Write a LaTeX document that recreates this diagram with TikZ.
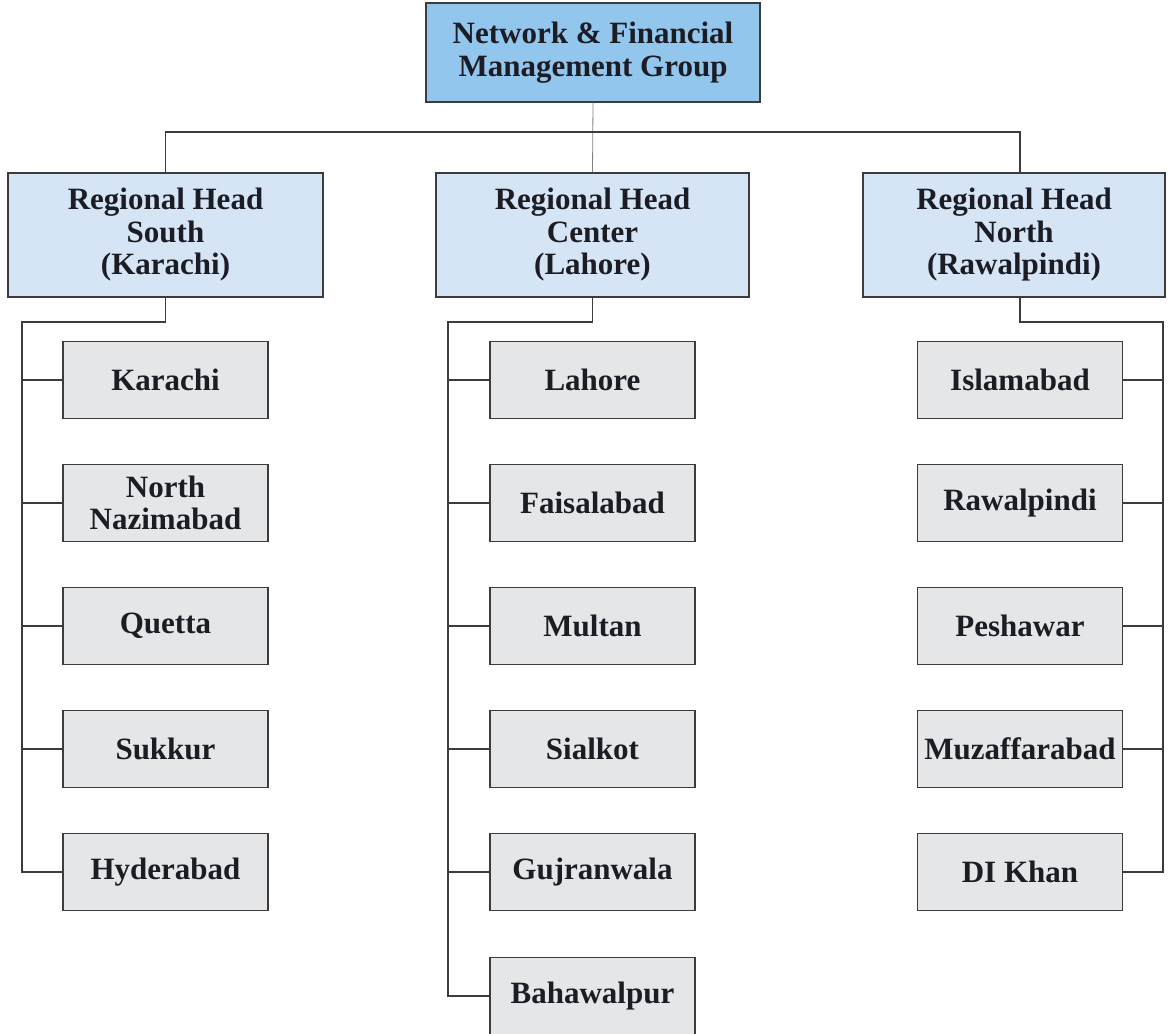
\documentclass[tikz,border=0pt]{standalone}
\usepackage{fontspec}
\setmainfont{Liberation Serif}
\definecolor{topblue}{HTML}{93C6EC}
\definecolor{regblue}{HTML}{D5E5F5}
\definecolor{cellgray}{HTML}{E5E6E8}
\definecolor{edgegray}{HTML}{3C3C3C}
\definecolor{txt}{HTML}{1C1C24}
\begin{document}
\begin{tikzpicture}[x=1pt,y=-1pt,
  base/.style={draw=edgegray,line width=1.4pt,align=center,text=txt,
    font=\fontsize{31}{32.5}\selectfont\bfseries,inner sep=0pt},
  topbox/.style={base,fill=topblue,minimum width=334pt,minimum height=99pt},
  regbox/.style={base,fill=regblue,minimum height=124pt},
  cell/.style={base,fill=cellgray,minimum width=205pt,minimum height=77pt},
  link/.style={draw=edgegray,line width=1.3pt},
  thinlink/.style={draw=gray,line width=0.8pt}]
\useasboundingbox (0,0) rectangle (1169,1033);

\node[topbox] (top) at (593,52.5) {Network \& Financial\\Management Group};

\node[regbox,minimum width=315pt] (south) at (165.5,235) {Regional Head\\South\\(Karachi)};
\node[regbox,minimum width=313pt] (center) at (592.5,235) {Regional Head\\Center\\(Lahore)};
\node[regbox,minimum width=302pt] (north) at (1014,235) {Regional Head\\North\\(Rawalpindi)};

% top-level connectors
\coordinate (hbar) at (593,132);
\draw[thinlink] (top.south) -- (center.north);
\draw[link] (south.north) |- (hbar) -| (north.north -| 1020,0);

% south children
\node[cell] (s1) at (165.5,380) {Karachi};
\node[cell] (s2) at (165.5,503) {North\\Nazimabad};
\node[cell] (s3) at (165.5,626) {Quetta};
\node[cell] (s4) at (165.5,749) {Sukkur};
\node[cell] (s5) at (165.5,872) {Hyderabad};

% center children
\node[cell] (c1) at (592.5,380) {Lahore};
\node[cell] (c2) at (592.5,503) {Faisalabad};
\node[cell] (c3) at (592.5,626) {Multan};
\node[cell] (c4) at (592.5,749) {Sialkot};
\node[cell] (c5) at (592.5,872) {Gujranwala};
\node[cell] (c6) at (592.5,996) {Bahawalpur};

% north children
\node[cell] (n1) at (1020,380) {Islamabad};
\node[cell] (n2) at (1020,503) {Rawalpindi};
\node[cell] (n3) at (1020,626) {Peshawar};
\node[cell] (n4) at (1020,749) {Muzaffarabad};
\node[cell] (n5) at (1020,872) {DI Khan};

% south tree
\coordinate (sb) at (22,322);
\draw[link] (south.south) -- (165.5,322) -- (sb) -- (22,872) -- (s5.west);
\foreach \n in {s1,s2,s3,s4} \draw[link] (\n.west) -- (\n.west -| sb);

% center tree
\coordinate (cb) at (448,322);
\draw[link] (center.south) -- (592.5,322) -- (cb) -- (448,996) -- (c6.west);
\foreach \n in {c1,c2,c3,c4,c5} \draw[link] (\n.west) -- (\n.west -| cb);

% north tree
\coordinate (nb) at (1163,322);
\draw[link] (north.south -| 1020,0) -- (1020,322) -- (nb) -- (1163,872) -- (n5.east);
\foreach \n in {n1,n2,n3,n4} \draw[link] (\n.east) -- (\n.east -| nb);
\end{tikzpicture}
\end{document}
